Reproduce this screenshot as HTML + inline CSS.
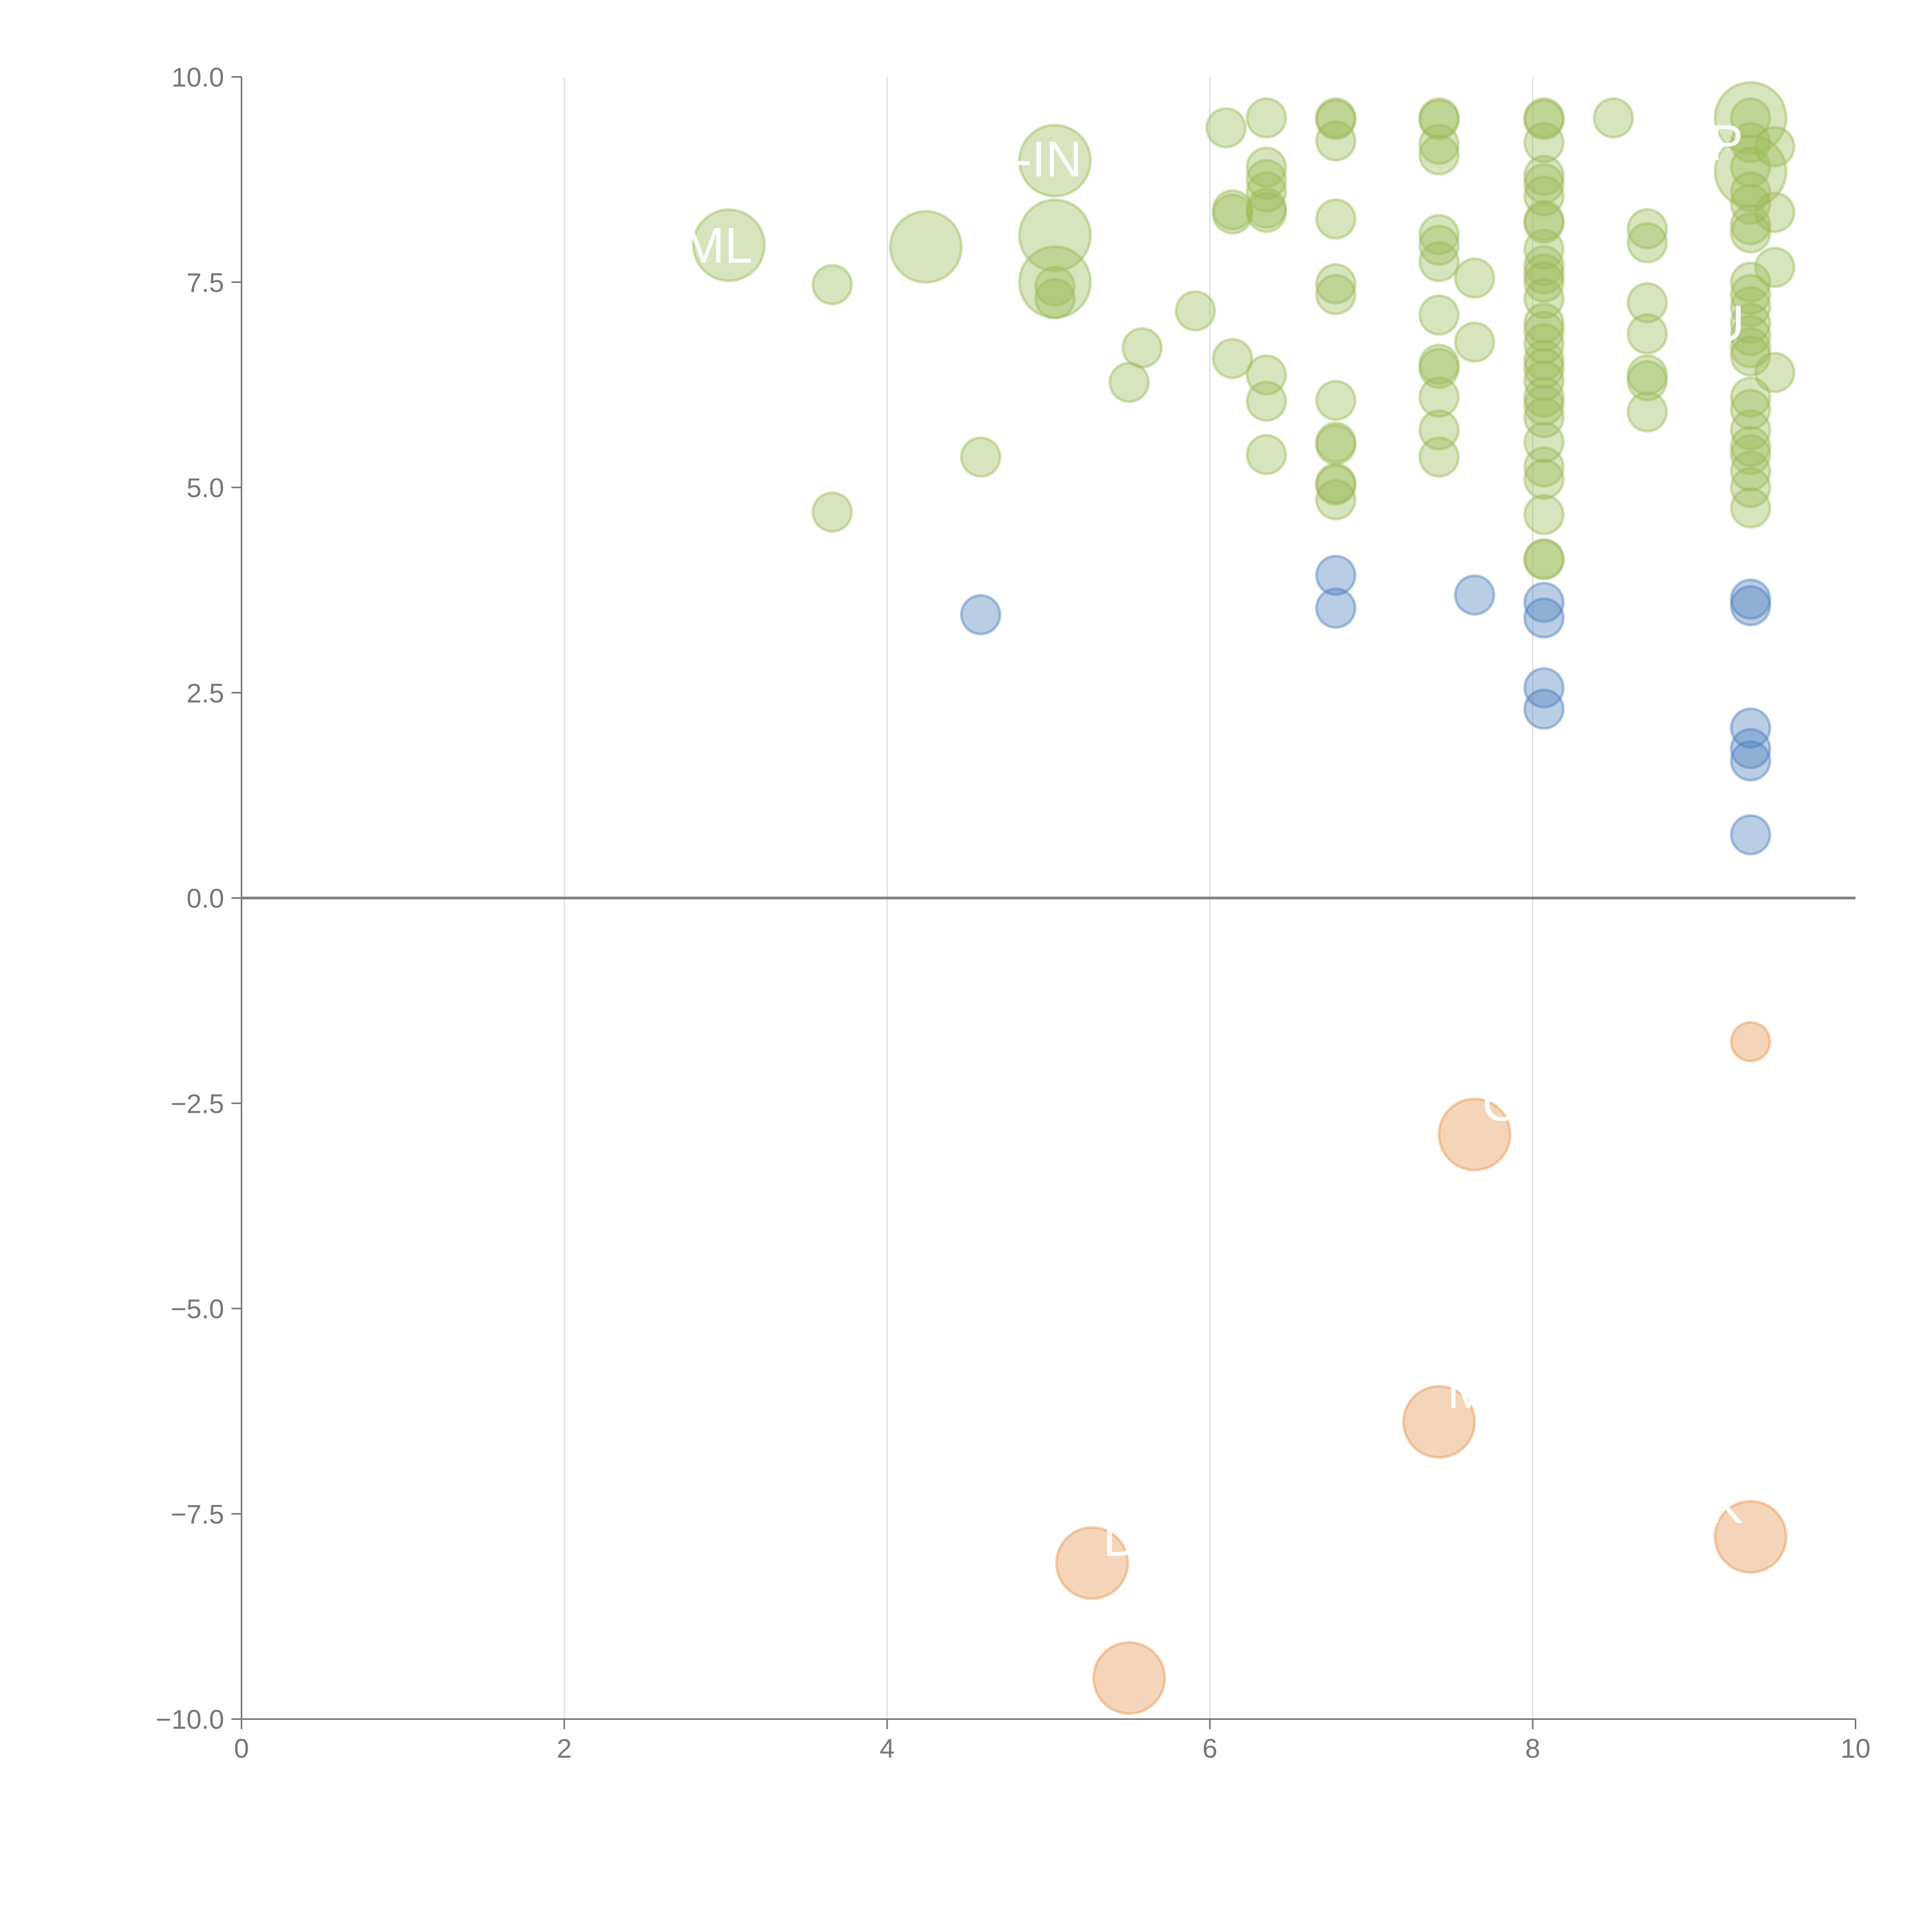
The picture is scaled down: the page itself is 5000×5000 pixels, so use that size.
<!DOCTYPE html>
<html><head><meta charset="utf-8"><style>html,body{margin:0;padding:0;background:#fff}svg{display:block}</style></head>
<body>
<svg id="chart" width="5000" height="5000" viewBox="0 0 5000 5000" xmlns="http://www.w3.org/2000/svg" font-family="Liberation Sans, sans-serif"></svg>
<script>
const xTicks=[0,2,4,6,8,10];
const yTicks=[10,7.5,5,2.5,0,-2.5,-5,-7.5,-10];
const yTickLabels=["10.0","7.5","5.0","2.5","0.0","\u22122.5","\u22125.0","\u22127.5","\u221210.0"];
const greenX=[3.02,4.24,5.04,5.04,5.04,9.35,9.35,3.66,3.66,4.58,5.04,5.04,5.5,5.58,5.91,6.1,6.14,6.14,6.14,6.35,6.35,6.35,6.35,6.35,6.35,6.35,6.35,6.35,6.78,6.78,6.78,6.78,6.78,6.78,6.78,6.78,6.78,6.78,6.78,6.78,7.42,7.42,7.42,7.42,7.42,7.42,7.42,7.42,7.42,7.42,7.42,7.42,7.42,7.64,7.64,8.07,8.07,8.07,8.07,8.07,8.07,8.07,8.07,8.07,8.07,8.07,8.07,8.07,8.07,8.07,8.07,8.07,8.07,8.07,8.07,8.07,8.07,8.07,8.07,8.07,8.07,8.07,8.07,8.5,8.71,8.71,8.71,8.71,8.71,8.71,8.71,9.35,9.35,9.35,9.35,9.35,9.35,9.35,9.35,9.35,9.35,9.35,9.35,9.35,9.35,9.35,9.35,9.35,9.35,9.35,9.35,9.35,9.35,9.5,9.5,9.5,9.5];
const greenY=[7.95,7.93,8.98,8.07,7.5,9.5,8.85,7.47,4.7,5.37,7.45,7.3,6.28,6.7,7.15,9.38,8.38,8.33,6.57,9.5,8.9,8.75,8.6,8.4,8.35,6.37,6.05,5.4,9.5,9.48,9.22,8.27,7.48,7.35,6.06,5.55,5.52,5.05,5.03,4.85,9.5,9.48,9.18,9.05,8.08,7.95,7.75,7.1,6.5,6.45,6.1,5.7,5.37,7.55,6.77,9.5,9.48,9.2,8.8,8.7,8.55,8.25,8.22,7.9,7.7,7.6,7.5,7.3,7.0,6.9,6.75,6.55,6.45,6.3,6.1,6.0,5.85,5.55,5.25,5.1,4.67,4.13,4.12,9.5,8.15,7.98,7.25,6.87,6.37,6.3,5.92,9.5,9.2,8.9,8.6,8.45,8.2,8.1,7.5,7.35,7.2,7.0,6.85,6.7,6.6,6.1,5.95,5.7,5.5,5.4,5.2,5.0,4.75,9.15,8.35,7.68,6.4];
const greenBig=[1,1,1,1,1,1,1];
const blueX=[4.58,6.78,6.78,7.64,8.07,8.07,8.07,8.07,9.35,9.35,9.35,9.35,9.35,9.35];
const blueY=[3.45,3.93,3.53,3.69,3.6,3.41,2.56,2.3,3.64,3.56,2.07,1.82,1.67,0.77];
const orangeX=[9.35,7.64,7.42,5.27,5.5,9.35];
const orangeY=[-1.75,-2.88,-6.38,-8.1,-9.5,-7.78];
const orangeBig=[0,1,1,1,1,1];
const labelText=["ML","-IN","P","U","C","M","D","R","K"];
const labelX=[2.95,5.0,9.2,9.2,7.8,7.6,5.45,5.75,9.2];
const labelY=[7.95,9.0,9.2,7.0,-2.5,-6.0,-7.8,-9.0,-7.4];

const NS="http://www.w3.org/2000/svg",svg=document.getElementById('chart');
const X0=625,X1=4802,YT=199,YB=4449;
const sx=v=>X0+(v-0)/10*(X1-X0);
const sy=v=>YT+(10-v)/20*(YB-YT);
function mk(t,a,p){const e=document.createElementNS(NS,t);for(const k in a)e.setAttribute(k,a[k]);(p||svg).appendChild(e);return e;}
xTicks.forEach((t,i)=>{if(t>0&&t<10){const g=mk('line',{x1:sx(t),x2:sx(t),y1:YT,y2:YB,stroke:'#dcdcdc','stroke-width':3});

}});
const ya=mk('line',{x1:X0,x2:X0,y1:YT,y2:YB,stroke:'#777','stroke-width':4});


const xa=mk('line',{x1:X0,x2:X1,y1:YB,y2:YB,stroke:'#777','stroke-width':4});


const zl=mk('line',{x1:X0,x2:X1,y1:sy(0),y2:sy(0),stroke:'#808080','stroke-width':7});


xTicks.forEach(t=>{mk('line',{x1:sx(t),x2:sx(t),y1:YB,y2:YB+26,stroke:'#777','stroke-width':4});
const tx=mk('text',{x:sx(t),y:YB+100,'font-size':70,fill:'#777','text-anchor':'middle'});tx.textContent=t;

});
yTicks.forEach((t,i)=>{mk('line',{x1:X0-26,x2:X0,y1:sy(t),y2:sy(t),stroke:'#777','stroke-width':4});
const tx=mk('text',{x:X0-45,y:sy(t)+25,'font-size':70,fill:'#777','text-anchor':'end'});tx.textContent=yTickLabels[i];

});
function dot(x,y,big,col,name){const c=mk('circle',{cx:sx(x),cy:sy(y),r:big?92:50,fill:col,'fill-opacity':0.4,stroke:col,'stroke-opacity':0.45,'stroke-width':7});

}
greenX.forEach((x,i)=>dot(x,greenY[i],greenBig[i]||0,'#9bbb59','green-bubble'));
blueX.forEach((x,i)=>dot(x,blueY[i],0,'#4f81bd','blue-bubble'));
orangeX.forEach((x,i)=>dot(x,orangeY[i],orangeBig[i],'#e69650','orange-bubble'));
labelText.forEach((s,i)=>{const t=mk('text',{x:sx(labelX[i]),y:sy(labelY[i])+45,'font-size':130,fill:'#fff','text-anchor':'middle'});t.textContent=s;

});
</script>
</body></html>
